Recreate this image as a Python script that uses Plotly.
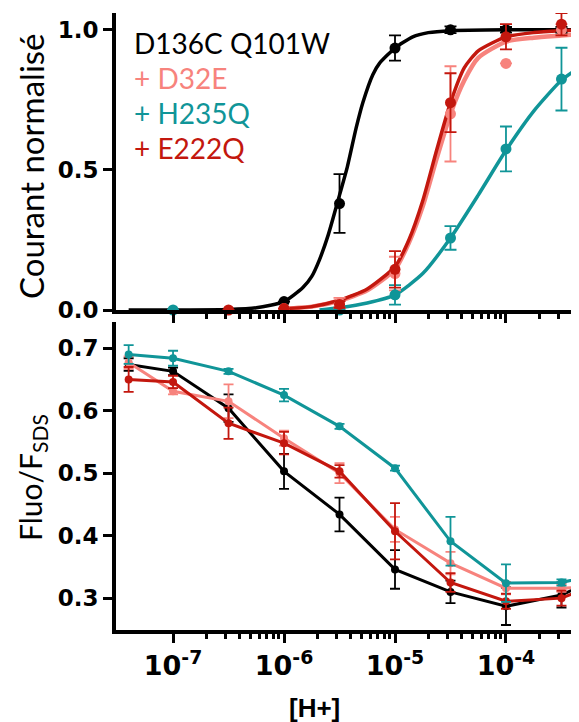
import plotly.graph_objects as go

# ---------------- data ----------------
PH = [7.4, 7.0, 6.5, 6.0, 5.5, 5.0, 4.5, 4.0, 3.5, 3.0]
H = [10 ** -p for p in PH]

# Top panel: normalized current (points + SEM)
cur_black = [None, None, None, 0.03, 0.38, 0.935, 1.0, 1.0, 1.0, None]
cur_black_err = [0, 0, 0, 0, 0.105, 0.045, 0.012, 0.01, 0.01, 0]
cur_pink = [None, None, None, 0.005, 0.025, 0.13, 0.70, 0.88, 1.0, None]
cur_pink_err = [0, 0, 0, 0, 0.018, 0.06, 0.17, 0, 0.02, 0]
cur_teal = [None, 0.0, None, None, 0.0, 0.054, 0.257, 0.575, 0.824, None]
cur_teal_err = [0, 0, 0, 0, 0, 0.035, 0.042, 0.08, 0.112, 0]
cur_red = [None, None, 0.0, 0.005, 0.02, 0.145, 0.74, 0.975, 1.02, None]
cur_red_err = [0, 0, 0, 0, 0.012, 0.065, 0.105, 0.045, 0.04, 0]

# Top panel: fitted curves
fit_black_ph = [7.4, 6.5, 6.25, 6.0, 5.83, 5.75, 5.68, 5.6, 5.5, 5.43, 5.35, 5.29, 5.2, 5.14, 5.0, 4.84, 4.7, 4.5, 4.0, 3.34]
fit_black = [0.0, 0.002, 0.008, 0.03, 0.08, 0.12, 0.18, 0.27, 0.41, 0.51, 0.65, 0.74, 0.84, 0.88, 0.935, 0.975, 0.99, 0.997, 1.0, 1.0]
fit_rp_ph = [6.0, 5.75, 5.5, 5.25, 5.0, 4.875, 4.75, 4.625, 4.5, 4.375, 4.25, 4.0, 3.75, 3.5, 3.34]
fit_red = [0.005, 0.012, 0.035, 0.075, 0.155, 0.25, 0.39, 0.57, 0.74, 0.865, 0.925, 0.975, 0.99, 0.997, 1.0]
fit_pink = [0.005, 0.012, 0.033, 0.07, 0.145, 0.24, 0.37, 0.54, 0.70, 0.82, 0.90, 0.958, 0.972, 0.98, 0.985]
fit_teal_ph = [5.68, 5.5, 5.25, 5.0, 4.75, 4.5, 4.25, 4.0, 3.75, 3.5, 3.34]
fit_teal = [0.0, 0.008, 0.025, 0.054, 0.13, 0.257, 0.41, 0.57, 0.71, 0.82, 0.865]

# Bottom panel: Fluo/F_SDS
fl_black = [0.674, 0.663, 0.604, 0.503, 0.434, 0.346, 0.31, 0.287, 0.305, 0.345]
fl_black_err = [0.01, 0.006, 0.022, 0.028, 0.027, 0.031, 0.018, 0.03, 0.02, 0]
fl_pink = [0.677, 0.631, 0.615, 0.556, 0.5, 0.41, 0.356, 0.316, 0.316, 0.32]
fl_pink_err = [0.01, 0.005, 0.027, 0.012, 0.016, 0.02, 0.018, 0.01, 0.006, 0]
fl_red = [0.65, 0.646, 0.58, 0.548, 0.503, 0.407, 0.325, 0.295, 0.30, 0.335]
fl_red_err = [0.02, 0.01, 0.025, 0.018, 0.01, 0.045, 0.015, 0.012, 0.012, 0]
fl_teal = [0.69, 0.684, 0.663, 0.625, 0.575, 0.508, 0.391, 0.324, 0.325, 0.345]
fl_teal_err = [0.015, 0.012, 0.004, 0.01, 0.004, 0.004, 0.039, 0.03, 0.005, 0]

names = ["D136C Q101W", "+ D32E", "+ H235Q", "+ E222Q"]
BLACK, PINK, TEAL, RED = "#000000", "#F7837D", "#109598", "#C3170E"

XMAJOR = [1e-7, 1e-6, 1e-5, 1e-4]
XMAJOR_TXT = ["10<sup>-7</sup>", "10<sup>-6</sup>", "10<sup>-5</sup>", "10<sup>-4</sup>"]
XMINOR = [k * 10.0 ** e for e in (-7, -6, -5, -4) for k in range(2, 10)]

fig = go.Figure()


def hx(ph_list):
    return [10 ** -p for p in ph_list]


# top curves
for xs, ys, col, w in [(fit_black_ph, fit_black, BLACK, 3.5),
                       (fit_rp_ph, fit_pink, PINK, 4.5),
                       (fit_teal_ph, fit_teal, TEAL, 3.5),
                       (fit_rp_ph, fit_red, RED, 3.5)]:
    fig.add_trace(go.Scatter(x=hx(xs), y=ys, mode="lines", line=dict(color=col, width=w, shape="spline", smoothing=0.6),
                             xaxis="x", yaxis="y", showlegend=False, hoverinfo="skip"))

# top points
for ys, es, col in [(cur_black, cur_black_err, BLACK), (cur_pink, cur_pink_err, PINK),
                    (cur_teal, cur_teal_err, TEAL), (cur_red, cur_red_err, RED)]:
    fig.add_trace(go.Scatter(x=H, y=ys, mode="markers", marker=dict(color=col, size=11),
                             error_y=dict(type="data", array=es, color=col, thickness=1.8, width=6),
                             xaxis="x", yaxis="y", showlegend=False, cliponaxis=False))

# bottom lines + points
for ys, es, col in [(fl_black, fl_black_err, BLACK), (fl_pink, fl_pink_err, PINK),
                    (fl_red, fl_red_err, RED), (fl_teal, fl_teal_err, TEAL)]:
    fig.add_trace(go.Scatter(x=H, y=ys, mode="lines+markers", marker=dict(color=col, size=8),
                             line=dict(color=col, width=3),
                             error_y=dict(type="data", array=es, color=col, thickness=1.8, width=5),
                             xaxis="x2", yaxis="y2", showlegend=False))

XR = [-7.514, -3.342]
axis_common = dict(showline=True, linewidth=4, linecolor="black", ticks="outside", tickcolor="black",
                   showgrid=False, zeroline=False, automargin=False)

# page body has an 8px margin: figure is 571x714 so the window (579x722) shows it fully
W, HGT, OFF = 571, 714, 8
ML = 116 - OFF
PW = W - ML


def py_dom(ypix):
    return (HGT - (ypix - OFF)) / HGT


fig.update_layout(
    template="none",
    width=W, height=HGT,
    margin=dict(l=ML, r=0, t=0, b=0, pad=0),
    paper_bgcolor="white", plot_bgcolor="white",
    xaxis=dict(type="log", range=XR, domain=[0, 1], anchor="y", tickvals=XMAJOR, showticklabels=False,
               ticklen=9, tickwidth=3,
               minor=dict(tickmode="array", tickvals=XMINOR, ticks="outside", ticklen=5, tickwidth=2.5, tickcolor="black"),
               **axis_common),
    yaxis=dict(range=[0, 1.06], domain=[py_dom(310), py_dom(13)], anchor="x", tickvals=[0, 0.5, 1.0],
               ticktext=["0.0", "0.5", "1.0"], ticklen=9, tickwidth=3,
               tickfont=dict(family="DejaVu Sans", size=23, color="black", weight="bold"), **axis_common),
    xaxis2=dict(type="log", range=XR, domain=[0, 1], anchor="y2", tickvals=XMAJOR, ticktext=XMAJOR_TXT,
                ticklen=9, tickwidth=3,
                tickfont=dict(family="DejaVu Sans", size=27, color="black", weight="bold"),
                minor=dict(tickmode="array", tickvals=XMINOR, ticks="outside", ticklen=5, tickwidth=2.5, tickcolor="black"),
                **axis_common),
    yaxis2=dict(range=[0.249, 0.742], domain=[py_dom(630), py_dom(322)], anchor="x2",
                tickvals=[0.3, 0.4, 0.5, 0.6, 0.7],
                ticktext=["0.3", "0.4", "0.5", "0.6", "0.7"], ticklen=9, tickwidth=3,
                tickfont=dict(family="DejaVu Sans", size=23, color="black", weight="bold"), **axis_common),
)


def px(xpix):
    return (xpix - OFF - ML) / PW


def py(ypix):
    return py_dom(ypix)


ann = []
for i, (t, c) in enumerate(zip(names, [BLACK, PINK, TEAL, RED])):
    ann.append(dict(text=t, x=px(132), y=py(42.5 + 35.2 * i), xref="paper", yref="paper", xanchor="left",
                    yanchor="middle", showarrow=False, font=dict(family="Lato", size=28, color=c)))
ann.append(dict(text="Courant normalisé", x=px(31), y=py(166), xref="paper", yref="paper", textangle=-90,
                xanchor="center", yanchor="middle", showarrow=False, font=dict(family="Lato", size=33, color="black")))
ann.append(dict(text="Fluo/F<sub>SDS</sub>", x=px(32), y=py(478), xref="paper", yref="paper", textangle=-90,
                xanchor="center", yanchor="middle", showarrow=False, font=dict(family="Lato", size=30, color="black")))
ann.append(dict(text="<b>[H+]</b>", x=px(314), y=py(708), xref="paper", yref="paper",
                xanchor="center", yanchor="middle", showarrow=False,
                font=dict(family="Liberation Sans", size=26, color="black")))
fig.update_layout(annotations=ann)

fig.write_html("out.html")
